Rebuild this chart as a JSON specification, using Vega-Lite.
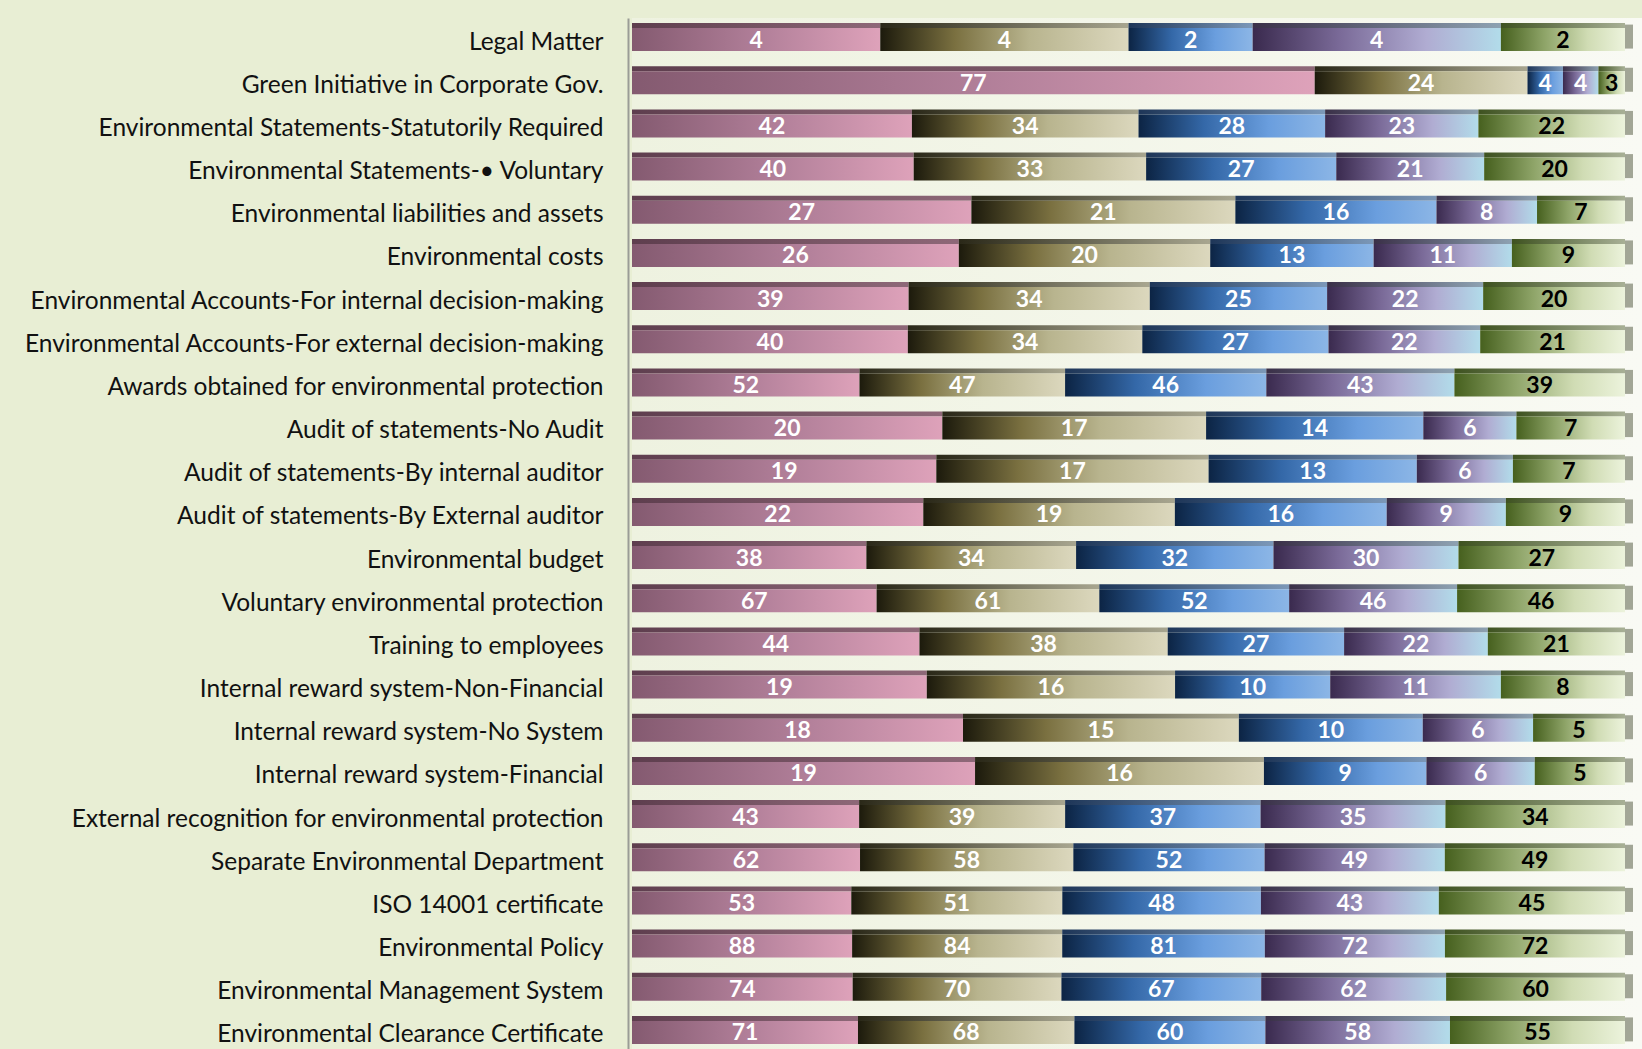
{
  "$schema": "https://vega.github.io/schema/vega-lite/v6.json",
  "autosize": {"type": "none"},
  "padding": {"left": 632, "top": 18, "right": 0, "bottom": 0},
  "width": 1010,
  "height": 1036,
  "background": "#e8eed4",
  "config": {
    "view": {
      "stroke": null,
      "fill": {"gradient": "linear", "x1": 0, "y1": 0, "x2": 1, "y2": 0,
        "stops": [{"offset": 0, "color": "#eef2e0"}, {"offset": 1, "color": "#f9faf4"}]}
    }
  },
  "data": {
    "values": [
      {"item": "Legal Matter", "S1": 4, "S2": 4, "S3": 2, "S4": 4, "S5": 2},
      {"item": "Green Initiative in Corporate Gov.", "S1": 77, "S2": 24, "S3": 4, "S4": 4, "S5": 3},
      {"item": "Environmental Statements-Statutorily Required", "S1": 42, "S2": 34, "S3": 28, "S4": 23, "S5": 22},
      {"item": "Environmental Statements-• Voluntary", "S1": 40, "S2": 33, "S3": 27, "S4": 21, "S5": 20},
      {"item": "Environmental liabilities and assets", "S1": 27, "S2": 21, "S3": 16, "S4": 8, "S5": 7},
      {"item": "Environmental costs", "S1": 26, "S2": 20, "S3": 13, "S4": 11, "S5": 9},
      {"item": "Environmental Accounts-For internal decision-making", "S1": 39, "S2": 34, "S3": 25, "S4": 22, "S5": 20},
      {"item": "Environmental Accounts-For external decision-making", "S1": 40, "S2": 34, "S3": 27, "S4": 22, "S5": 21},
      {"item": "Awards obtained for environmental protection", "S1": 52, "S2": 47, "S3": 46, "S4": 43, "S5": 39},
      {"item": "Audit of statements-No Audit", "S1": 20, "S2": 17, "S3": 14, "S4": 6, "S5": 7},
      {"item": "Audit of statements-By internal auditor", "S1": 19, "S2": 17, "S3": 13, "S4": 6, "S5": 7},
      {"item": "Audit of statements-By External auditor", "S1": 22, "S2": 19, "S3": 16, "S4": 9, "S5": 9},
      {"item": "Environmental budget", "S1": 38, "S2": 34, "S3": 32, "S4": 30, "S5": 27},
      {"item": "Voluntary environmental protection", "S1": 67, "S2": 61, "S3": 52, "S4": 46, "S5": 46},
      {"item": "Training to employees", "S1": 44, "S2": 38, "S3": 27, "S4": 22, "S5": 21},
      {"item": "Internal reward system-Non-Financial", "S1": 19, "S2": 16, "S3": 10, "S4": 11, "S5": 8},
      {"item": "Internal reward system-No System", "S1": 18, "S2": 15, "S3": 10, "S4": 6, "S5": 5},
      {"item": "Internal reward system-Financial", "S1": 19, "S2": 16, "S3": 9, "S4": 6, "S5": 5},
      {"item": "External recognition for environmental protection", "S1": 43, "S2": 39, "S3": 37, "S4": 35, "S5": 34},
      {"item": "Separate Environmental Department", "S1": 62, "S2": 58, "S3": 52, "S4": 49, "S5": 49},
      {"item": "ISO 14001 certificate", "S1": 53, "S2": 51, "S3": 48, "S4": 43, "S5": 45},
      {"item": "Environmental Policy", "S1": 88, "S2": 84, "S3": 81, "S4": 72, "S5": 72},
      {"item": "Environmental Management System", "S1": 74, "S2": 70, "S3": 67, "S4": 62, "S5": 60},
      {"item": "Environmental Clearance Certificate", "S1": 71, "S2": 68, "S3": 60, "S4": 58, "S5": 55}
    ]
  },
  "transform": [
    {"fold": ["S1", "S2", "S3", "S4", "S5"], "as": ["key", "value"]}
  ],
  "encoding": {
    "y": {
      "field": "item", "type": "nominal",
      "sort": ["Legal Matter", "Green Initiative in Corporate Gov.", "Environmental Statements-Statutorily Required", "Environmental Statements-• Voluntary", "Environmental liabilities and assets", "Environmental costs", "Environmental Accounts-For internal decision-making", "Environmental Accounts-For external decision-making", "Awards obtained for environmental protection", "Audit of statements-No Audit", "Audit of statements-By internal auditor", "Audit of statements-By External auditor", "Environmental budget", "Voluntary environmental protection", "Training to employees", "Internal reward system-Non-Financial", "Internal reward system-No System", "Internal reward system-Financial", "External recognition for environmental protection", "Separate Environmental Department", "ISO 14001 certificate", "Environmental Policy", "Environmental Management System", "Environmental Clearance Certificate"],
      "scale": {"paddingInner": 0, "paddingOuter": 0},
      "axis": {
        "title": null, "ticks": false, "offset": 4,
        "domainColor": "#9a9c96", "domainWidth": 2,
        "labelFont": "Lato", "labelFontSize": 24.5, "labelColor": "#111111",
        "labelPadding": 25, "labelLimit": 700, "labelOffset": 3
      }
    }
  },
  "layer": [
    {
      "mark": {"type": "bar", "size": 5, "yOffset": -14},
      "encoding": {
        "x": {"field": "value", "type": "quantitative", "stack": "normalize",
          "scale": {"domain": [0, 1.0171], "nice": false, "zero": true}, "axis": null},
        "detail": {"field": "key"},
        "order": {"field": "key", "sort": "ascending"},
        "fill": {
          "condition": [
            {"test": "datum.key === 'S1'", "value": {"gradient": "linear", "x1": 0, "y1": 0, "x2": 1, "y2": 0, "stops": [{"offset": 0, "color": "#5e3e4e"}, {"offset": 1, "color": "#8e6878"}]}},
            {"test": "datum.key === 'S2'", "value": {"gradient": "linear", "x1": 0, "y1": 0, "x2": 1, "y2": 0, "stops": [{"offset": 0, "color": "#2a2818"}, {"offset": 1, "color": "#a8a690"}]}},
            {"test": "datum.key === 'S3'", "value": {"gradient": "linear", "x1": 0, "y1": 0, "x2": 1, "y2": 0, "stops": [{"offset": 0, "color": "#1e3658"}, {"offset": 1, "color": "#7c98b8"}]}},
            {"test": "datum.key === 'S4'", "value": {"gradient": "linear", "x1": 0, "y1": 0, "x2": 1, "y2": 0, "stops": [{"offset": 0, "color": "#3a3048"}, {"offset": 1, "color": "#8ea2b2"}]}}
          ],
          "value": {"gradient": "linear", "x1": 0, "y1": 0, "x2": 1, "y2": 0, "stops": [{"offset": 0, "color": "#3e5220"}, {"offset": 1, "color": "#a8b096"}]}
        }
      }
    },
    {
      "mark": {"type": "bar", "size": 23, "yOffset": 0},
      "encoding": {
        "x": {"field": "value", "type": "quantitative", "stack": "normalize"},
        "detail": {"field": "key"},
        "order": {"field": "key", "sort": "ascending"},
        "fill": {
          "condition": [
            {"test": "datum.key === 'S1'", "value": {"gradient": "linear", "x1": 0, "y1": 0, "x2": 1, "y2": 0, "stops": [{"offset": 0, "color": "#845a70"}, {"offset": 0.5, "color": "#b07e98"}, {"offset": 1, "color": "#dea2ba"}]}},
            {"test": "datum.key === 'S2'", "value": {"gradient": "linear", "x1": 0, "y1": 0, "x2": 1, "y2": 0, "stops": [{"offset": 0, "color": "#1c1a0c"}, {"offset": 0.3, "color": "#7a7040"}, {"offset": 0.6, "color": "#b8b48e"}, {"offset": 1, "color": "#dcd8be"}]}},
            {"test": "datum.key === 'S3'", "value": {"gradient": "linear", "x1": 0, "y1": 0, "x2": 1, "y2": 0, "stops": [{"offset": 0, "color": "#0c2444"}, {"offset": 0.35, "color": "#3468a8"}, {"offset": 0.7, "color": "#6a9ede"}, {"offset": 1, "color": "#8cb6e6"}]}},
            {"test": "datum.key === 'S4'", "value": {"gradient": "linear", "x1": 0, "y1": 0, "x2": 1, "y2": 0, "stops": [{"offset": 0, "color": "#3a2a4e"}, {"offset": 0.35, "color": "#7a6a98"}, {"offset": 0.7, "color": "#b0acd2"}, {"offset": 1, "color": "#b2dcea"}]}}
          ],
          "value": {"gradient": "linear", "x1": 0, "y1": 0, "x2": 1, "y2": 0, "stops": [{"offset": 0, "color": "#46601e"}, {"offset": 0.35, "color": "#8ea468"}, {"offset": 0.7, "color": "#d0dcb4"}, {"offset": 1, "color": "#ecf3dc"}]}
        }
      }
    },
    {
      "transform": [{"filter": "datum.key === 'S5'"}],
      "mark": {"type": "bar", "size": 24, "yOffset": -3, "x2Offset": 8, "fill": "#a2a696"},
      "encoding": {
        "x": {"datum": 1, "type": "quantitative"},
        "x2": {"datum": 1}
      }
    },
    {
      "mark": {"type": "text", "font": "Lato", "fontSize": 23, "fontWeight": "bold", "baseline": "middle", "align": "center", "yOffset": 1},
      "encoding": {
        "x": {"field": "value", "type": "quantitative", "stack": "normalize", "bandPosition": 0.5},
        "detail": {"field": "key"},
        "order": {"field": "key", "sort": "ascending"},
        "text": {"field": "value", "type": "quantitative"},
        "color": {"condition": {"test": "datum.key === 'S5'", "value": "#000000"}, "value": "#ffffff"}
      }
    }
  ]
}
